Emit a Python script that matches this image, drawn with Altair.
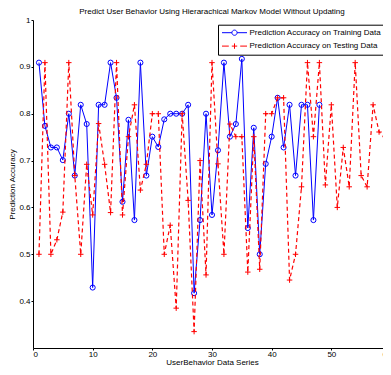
import altair as alt
import pandas as pd

train_label = "Prediction Accuracy on Training Data"
test_label = "Prediction Accuracy on Testing Data"

train_acc = [0.909, 0.774, 0.728, 0.728, 0.701, 0.800, 0.668, 0.819, 0.778, 0.429,
             0.819, 0.819, 0.909, 0.834, 0.612, 0.787, 0.573, 0.909, 0.668, 0.751,
             0.729, 0.788, 0.800, 0.800, 0.800, 0.819, 0.417, 0.573, 0.800, 0.584,
             0.722, 0.909, 0.751, 0.778, 0.917, 0.556, 0.770, 0.500, 0.693, 0.751,
             0.834, 0.728, 0.819, 0.668, 0.819, 0.819, 0.573, 0.819]

test_acc = [0.500, 0.909, 0.500, 0.531, 0.590, 0.909, 0.668, 0.500, 0.692, 0.584,
            0.779, 0.692, 0.589, 0.909, 0.584, 0.751, 0.819, 0.637, 0.692, 0.800,
            0.800, 0.500, 0.562, 0.385, 0.800, 0.615, 0.335, 0.700, 0.456, 0.909,
            0.693, 0.500, 0.778, 0.751, 0.751, 0.462, 0.751, 0.468, 0.800, 0.800,
            0.834, 0.834, 0.445, 0.500, 0.644, 0.909, 0.751, 0.909, 0.648, 0.819,
            0.600, 0.728, 0.644, 0.909, 0.668, 0.644, 0.819, 0.761, 0.751]

x_ticks = [0, 10, 20, 30, 40, 50, 60]
y_ticks = [0.4, 0.5, 0.6, 0.7, 0.8, 0.9, 1.0]

train_df = pd.DataFrame({"x": list(range(1, len(train_acc) + 1)), "y": train_acc, "series": train_label})
test_df = pd.DataFrame({"x": list(range(1, len(test_acc) + 1)), "y": test_acc, "series": test_label})

FONT = "Liberation Sans"

train_sym = "M-1,0L1.475,0M2.775,0L5.25,0M1.475,0A0.65,0.65 0 1,1 2.775,0A0.65,0.65 0 1,1 1.475,0"
test_sym = "M-1,0L0.7,0M3.55,0L5.25,0M1.45,0L2.8,0M2.125,-0.675L2.125,0.675"

color_scale = alt.Scale(domain=[train_label, test_label], range=["#0000ff", "#ff0000"])

legend = alt.Legend(
    title=None,
    orient="none",
    legendX=185,
    legendY=4.7,
    padding=3.5,
    rowPadding=2.4,
    symbolSize=64,
    symbolType=alt.ExprRef(expr="datum.index === 0 ? '" + train_sym + "' : '" + test_sym + "'"),
    symbolStrokeWidth=1,
    symbolOpacity=1,
    labelOffset=19,
    labelFont=FONT,
    labelFontSize=8,
    labelColor="black",
    labelLimit=400,
    strokeColor="black",
    fillColor="white",
)

x_enc = alt.X("x:Q", scale=alt.Scale(domain=[0, 60], nice=False),
              axis=alt.Axis(values=x_ticks, title="UserBehavior Data Series",
                            labelPadding=0, titlePadding=0))
y_enc = alt.Y("y:Q", scale=alt.Scale(domain=[0.3, 1.0], nice=False, zero=False),
              axis=alt.Axis(values=y_ticks, title="Prediction Accuracy",
                            labelPadding=1, titlePadding=2,
                            labelExpr="datum.value == 1 ? '1' : format(datum.value, '.1f')"))
c_enc = alt.Color("series:N", scale=color_scale, legend=legend)

train_line = alt.Chart(train_df).mark_line(strokeWidth=1).encode(x=x_enc, y=y_enc, color=c_enc)
train_pts = alt.Chart(train_df).mark_point(shape="circle", filled=False, size=26, strokeWidth=1, opacity=1).encode(
    x=x_enc, y=y_enc, color=c_enc)
test_line = alt.Chart(test_df).mark_line(strokeWidth=1.2, strokeDash=[4, 3]).encode(x=x_enc, y=y_enc, color=c_enc)
test_pts = alt.Chart(test_df).mark_point(shape="M-1,0L1,0M0,-1L0,1", filled=False, size=30, strokeWidth=1, opacity=1).encode(
    x=x_enc, y=y_enc, color=c_enc)

chart = alt.layer(train_line, train_pts, test_line, test_pts).properties(
    width=358,
    height=328,
    title=alt.TitleParams(
        "Predict User Behavior Using Hierarachical Markov Model Without Updating",
        font=FONT, fontSize=8, fontWeight="normal", color="black",
        baseline="alphabetic", offset=1.5, dy=7.5, anchor="middle", frame="group",
    ),
    autosize=alt.AutoSizeParams(type="none"),
    padding={"left": 25, "top": 12, "right": -8, "bottom": 19},
).configure_view(stroke=None).configure_axis(
    grid=False,
    domainColor="black",
    domainWidth=1,
    tickColor="black",
    tickSize=2,
    labelFont=FONT,
    labelFontSize=8,
    labelColor="black",
    titleFont=FONT,
    titleFontSize=8,
    titleFontWeight="normal",
    titleColor="black",
)

chart.save("out.html", embed_options={"renderer": "svg", "actions": False})
